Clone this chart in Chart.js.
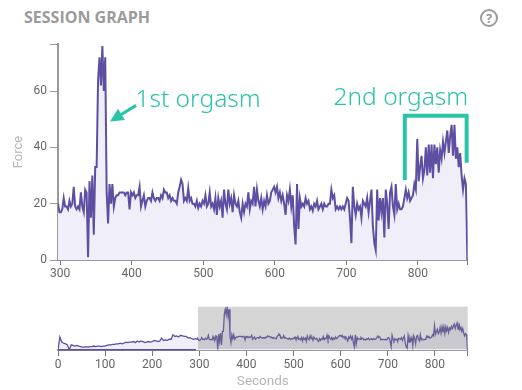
<!DOCTYPE html>
<html>
<head>
<meta charset="utf-8">
<title>Session graph</title>
<script src="https://cdn.jsdelivr.net/npm/chart.js@4/dist/chart.umd.js"></script>
<style>
  html, body { margin: 0; padding: 0; background: #fff; }
  #page { position: relative; width: 522px; height: 390px; overflow: hidden; }
  canvas { position: absolute; left: 0; }
  #mainChart { top: 0; }
  #overviewChart { top: 295px; }
  #title { position: absolute; left: 24px; top: 6px; font: 700 16px "Open Sans", sans-serif; color: #9b9b9b; white-space: nowrap; }
  #help { position: absolute; left: 480px; top: 9px; width: 14px; height: 14px; border: 2px solid #9b9b9b; border-radius: 50%;
    font: 700 13px/14px "Open Sans", sans-serif; color: #9b9b9b; text-align: center; }
</style>
</head>
<body>
<div id="page">
  <div id="title">SESSION GRAPH</div>
  <div id="help">?</div>
  <canvas id="mainChart" width="522" height="285"></canvas>
  <canvas id="overviewChart" width="522" height="95"></canvas>
</div>
<script>
// seconds shown in the overview only
var earlySeconds = [
  0,4,8,12,16,20,24,28,32,36,
  40,44,48,52,56,60,64,68,72,76,
  80,84,88,92,96,100,104,108,112,116,
  120,124,128,132,136,140,144,148,152,156,
  160,164,168,172,176,180,184,188,192,196,
  200,204,208,212,216,220,224,228,232,236,
  240,244,248,252,256,260,264,268,272,276,
  280,284,288,292,296
];
var earlyForce = [
  0,23,14,12,11,9,0,9,8,7,
  8,7,6,5,5,6,5,6,6,7,
  6,7,7,6,7,7,8,9,9,10,
  10,11,11,12,11,12,14,13,14,14,
  15,13,16,14,16,15,13,14,15,14,
  15,17,16,15,16,21,17,18,17,19,
  19,27,24,25,23,26,25,24,24,21,
  22,20,19,20,19
];

// seconds shown in the main graph
var sessionSeconds = [
  297,299,301,303,305,307,309,311,313,315,
  317,319,321,323,325,327,329,331,333,335,
  337,339,341,343,345,347,349,351,353,355,
  357,359,361,363,365,367,369,371,373,375,
  377,379,381,383,385,387,389,391,393,395,
  397,399,401,403,405,407,409,411,413,415,
  417,419,421,423,425,427,429,431,433,435,
  437,439,441,443,445,447,449,451,453,455,
  457,459,461,463,465,467,469,471,473,475,
  477,479,481,483,485,487,489,491,493,495,
  497,499,501,503,505,507,509,511,513,515,
  517,519,521,523,525,527,529,531,533,535,
  537,539,541,543,545,547,549,551,553,555,
  557,559,561,563,565,567,569,571,573,575,
  577,579,581,583,585,587,589,591,593,595,
  597,599,601,603,605,607,609,611,613,615,
  617,619,621,623,625,627,629,631,633,635,
  637,639,641,643,645,647,649,651,653,655,
  657,659,661,663,665,667,669,671,673,675,
  677,679,681,683,685,687,689,691,693,695,
  697,699,701,703,705,707,709,711,713,715,
  717,719,721,723,725,727,729,731,733,735,
  737,739,741,743,745,747,749,751,753,755,
  757,759,761,763,765,767,769,771,773,775,
  777,779,781,783,785,787,789,791,793,795,
  797,799,801,803,805,807,809,811,813,815,
  817,819,821,823,825,827,829,831,833,835,
  837,839,841,843,845,847,849,851,853,855,
  857,859,861,863,865,867,868,869
];
var sessionForce = [
  20,17,17,18,22,19,19,18,21,19,
  20,26,19,18,19,18,24,19,17,25,
  24,1,28,15,30,9,33,33,64,72,
  62,76,60,72,24,13,27,20,27,19,
  22,23,23,24,24,24,24,23,24,24,
  18,24,23,24,22,23,23,26,19,21,
  23,19,21,22,22,21,24,22,21,22,
  22,21,23,22,25,24,24,22,23,21,
  22,21,21,20,24,26,28.5,27,21,22,
  21,25.5,21,22,20,20,19,21,18.5,20,
  19,21,20,23,19,20,24,19,20,18,
  22,16,22,19,21,15,25,20,18,25,
  20,22,17,23,20,19,21,17,15,20,
  17,20,19,24,18,21,20,26,19,25,
  21,19,22,18,21,19,23,20,21,24,
  25,26,24,26,22,24,21,23,20,16,
  23,21,25,19,23,12,5.5,27,11,22,
  19,20,19,22,20,21,18,19,17.5,20,
  19,21,18,19,20,18,20,19,19,20,
  20,25,22,23,18,19,18,19,18,19,
  18,20,22,21,15,6,26,19,16,20,
  18,19,15,21,20,19,22,17,21,25,
  12,6,3.5,25,14,22,17,22,8,25,
  20,11,24,26,19,16,27,18,20,18,
  18,19,22,25,22,24,21,22,23,27,
  25,43,28,33,37,29,32,40,30,41,
  31,41,29,41,34,40,31,39,36,42,
  38,42,46,38,44,48,37,48,36,40,
  33,38,30,25,29,27,15,0
];

var xStart = 297, xEnd = 869.5, xOverviewEnd = 869.5, forceTop = 76.7;
var yTicks = [0, 20, 40, 60];
var xTicks = [300, 400, 500, 600, 700, 800];
var overviewTicks = [0, 100, 200, 300, 400, 500, 600, 700, 800];

// annotations in chart units (seconds, force)
var arrowTail = [406, 54.9], arrowTip = [369.6, 49.2];
var bracketLeft = 781.6, bracketRight = 868, bracketTop = 51.2, bracketLeftEnd = 28.4, bracketRightEnd = 34.5;
var label1 = { text: "1st orgasm", x: 408, y: 54.2 };
var label2 = { text: "2nd orgasm", x: 682, y: 55.1 };

var lineColor = "#5f4fa3";
var fillColor = "#f0eef8";
var axisColor = "#999999";
var tealColor = "#2bc3a8";

Chart.defaults.font.family = "Roboto";
Chart.defaults.font.size = 12;
Chart.defaults.color = "#666666";

function toPoints(xs, ys) {
  return xs.map(function (x, i) { return { x: x, y: ys[i] }; });
}

var annotationPlugin = {
  id: "orgasmNotes",
  afterDatasetsDraw: function (chart) {
    var c = chart.ctx, sx = chart.scales.x, sy = chart.scales.y;
    c.save();
    c.strokeStyle = tealColor;
    c.fillStyle = tealColor;

    // bracket over the second peak
    c.lineWidth = 4;
    c.lineJoin = "miter";
    c.beginPath();
    c.moveTo(sx.getPixelForValue(bracketLeft), sy.getPixelForValue(bracketLeftEnd));
    c.lineTo(sx.getPixelForValue(bracketLeft), sy.getPixelForValue(bracketTop));
    c.lineTo(sx.getPixelForValue(bracketRight), sy.getPixelForValue(bracketTop));
    c.lineTo(sx.getPixelForValue(bracketRight), sy.getPixelForValue(bracketRightEnd));
    c.stroke();

    // arrow to the first peak
    var tx = sx.getPixelForValue(arrowTail[0]), ty = sy.getPixelForValue(arrowTail[1]);
    var px = sx.getPixelForValue(arrowTip[0]), py = sy.getPixelForValue(arrowTip[1]);
    var a = Math.atan2(ty - py, tx - px);
    c.lineWidth = 3;
    c.beginPath();
    c.moveTo(tx, ty);
    c.lineTo(px + 10 * Math.cos(a), py + 10 * Math.sin(a));
    c.stroke();
    c.beginPath();
    c.moveTo(px, py);
    c.lineTo(px + 15 * Math.cos(a - 0.45), py + 15 * Math.sin(a - 0.45));
    c.lineTo(px + 15 * Math.cos(a + 0.45), py + 15 * Math.sin(a + 0.45));
    c.closePath();
    c.fill();

    c.font = "300 24.5px 'Noto Sans'";
    c.textBaseline = "alphabetic";
    c.fillText(label1.text, sx.getPixelForValue(label1.x) - 2, sy.getPixelForValue(label1.y));
    c.fillText(label2.text, sx.getPixelForValue(label2.x), sy.getPixelForValue(label2.y));
    c.restore();
  }
};

var selectionPlugin = {
  id: "selection",
  afterDatasetsDraw: function (chart) {
    var c = chart.ctx, sx = chart.scales.x, area = chart.chartArea;
    var left = sx.getPixelForValue(xStart), right = sx.getPixelForValue(xOverviewEnd);
    c.save();
    c.fillStyle = "rgba(128,128,128,0.33)";
    c.fillRect(left, area.top, right - left, area.bottom - area.top - 1);
    // handle line along the part that is not selected
    c.fillStyle = lineColor;
    c.fillRect(area.left, area.bottom - 1, left - area.left - 2, 1.5);
    c.restore();
  }
};

// main graph
new Chart(document.getElementById("mainChart").getContext("2d"), {
  type: "line",
  data: {
    datasets: [{
      data: toPoints(sessionSeconds, sessionForce),
      borderColor: lineColor,
      borderWidth: 2,
      backgroundColor: fillColor,
      fill: "origin",
      pointRadius: 0,
      tension: 0
    }]
  },
  options: {
    responsive: false,
    animation: false,
    events: [],
    layout: { padding: { top: 44, right: 54.3, left: 0, bottom: 0 } },
    plugins: { legend: { display: false }, tooltip: { enabled: false } },
    scales: {
      x: {
        type: "linear",
        min: xStart,
        max: xEnd,
        afterBuildTicks: function (axis) {
          axis.ticks = xTicks.concat([xEnd]).map(function (v) { return { value: v }; });
        },
        ticks: {
          padding: 2,
          maxRotation: 0,
          autoSkip: false,
          callback: function (v) { return v === xEnd ? "" : v; }
        },
        grid: { drawOnChartArea: false, tickLength: 5, tickColor: "#777777", tickWidth: 1 },
        border: { color: axisColor, width: 2 },
        afterFit: function (axis) { axis.height = 25; }
      },
      y: {
        min: 0,
        max: forceTop,
        afterBuildTicks: function (axis) {
          axis.ticks = yTicks.concat([forceTop]).map(function (v) { return { value: v }; });
        },
        ticks: {
          padding: 3,
          autoSkip: false,
          callback: function (v) { return v === forceTop ? "" : v; }
        },
        title: { display: true, text: "Force", color: "#b5b5b5", font: { size: 13 }, padding: { top: 11, bottom: 0 } },
        grid: { drawOnChartArea: false, tickLength: 8, tickColor: axisColor, tickWidth: 1 },
        border: { color: axisColor, width: 2 },
        afterFit: function (axis) { axis.width = 58; }
      }
    }
  },
  plugins: [annotationPlugin]
});

// overview with the selected range
new Chart(document.getElementById("overviewChart").getContext("2d"), {
  type: "line",
  data: {
    datasets: [{
      data: toPoints(earlySeconds.concat(sessionSeconds), earlyForce.concat(sessionForce)),
      borderColor: lineColor,
      borderWidth: 1.3,
      backgroundColor: fillColor,
      fill: "origin",
      pointRadius: 0,
      tension: 0
    }]
  },
  options: {
    responsive: false,
    animation: false,
    events: [],
    layout: { padding: { top: 11.7, right: 54.3, left: 58, bottom: 0 } },
    plugins: { legend: { display: false }, tooltip: { enabled: false } },
    scales: {
      x: {
        type: "linear",
        min: 0,
        max: xOverviewEnd,
        afterBuildTicks: function (axis) {
          axis.ticks = overviewTicks.concat([xOverviewEnd]).map(function (v) { return { value: v }; });
        },
        ticks: {
          padding: 2,
          maxRotation: 0,
          autoSkip: false,
          callback: function (v) { return v === xOverviewEnd ? "" : v; }
        },
        title: { display: true, text: "Seconds", color: "#b5b5b5", font: { size: 13.5 }, padding: { top: 0, bottom: 0 } },
        grid: { drawOnChartArea: false, tickLength: 6, tickColor: "#777777", tickWidth: 1 },
        border: { color: axisColor, width: 2 },
        afterFit: function (axis) { axis.height = 40; }
      },
      y: { display: false, min: 0, max: forceTop }
    }
  },
  plugins: [selectionPlugin]
});
</script>
</body>
</html>
